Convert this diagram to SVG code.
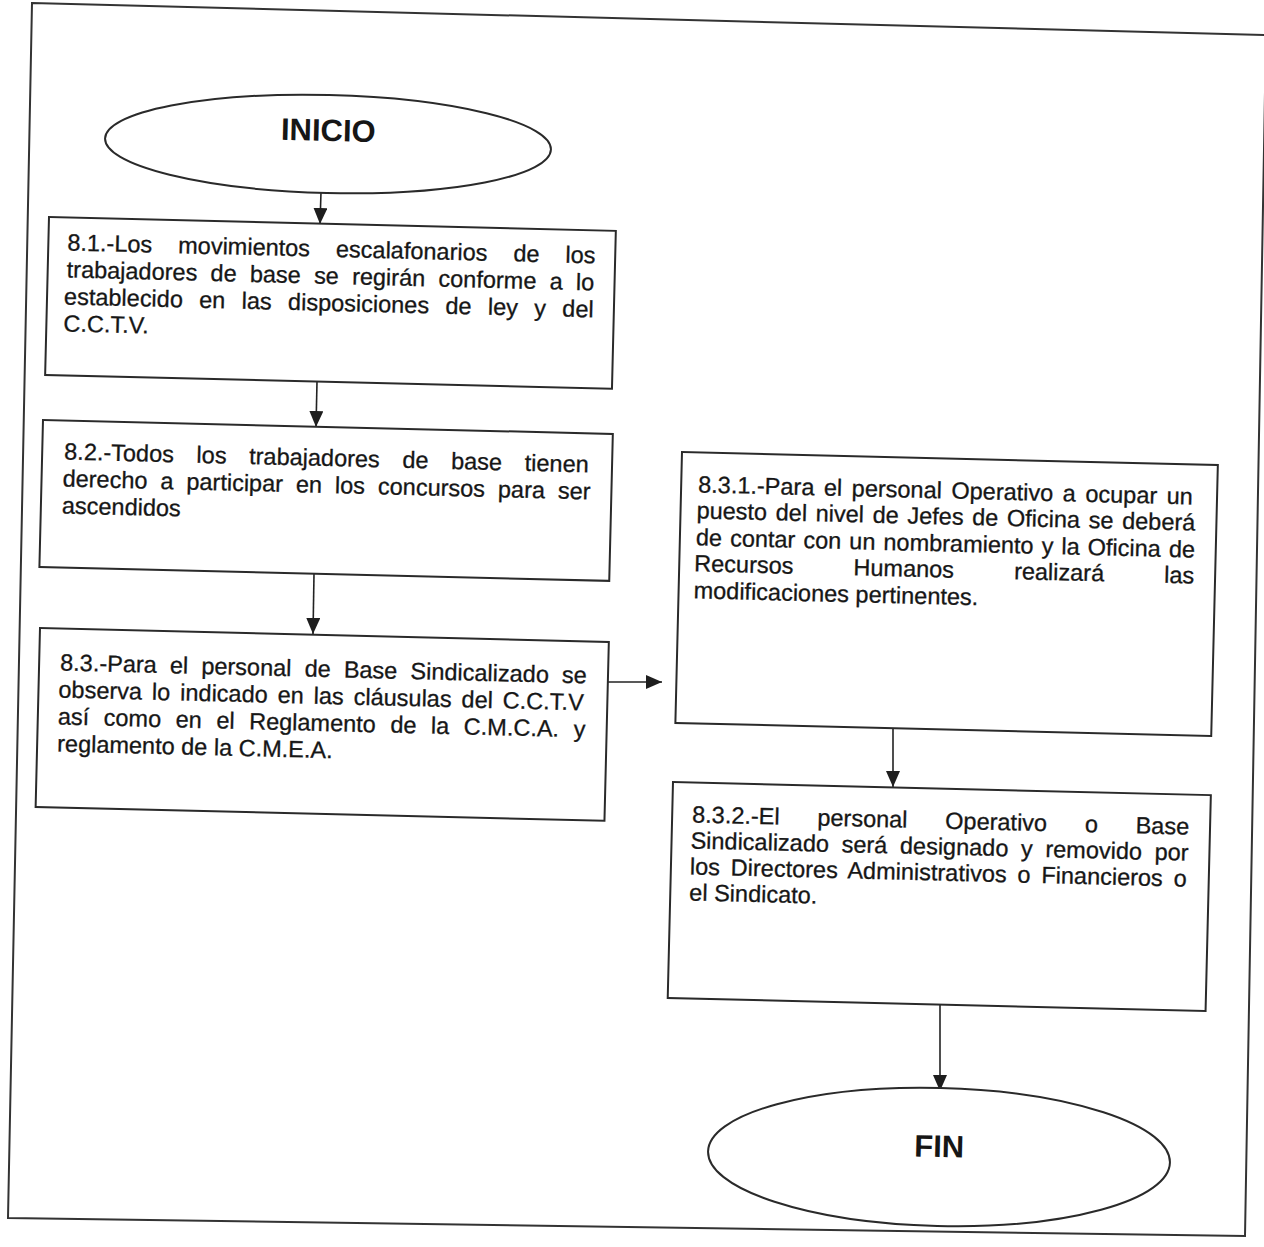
<svg xmlns="http://www.w3.org/2000/svg" width="1264" height="1247" viewBox="0 0 1264 1247">
  <style>
    .frame { fill: none; stroke: #333; stroke-width: 2; }
    .box { fill: #fff; stroke: #2a2a2a; stroke-width: 2; }
    .term { fill: #fff; stroke: #2a2a2a; stroke-width: 2; }
    .txt { font-family: "Liberation Sans", Arial, sans-serif; font-size: 23.5px; fill: #161616; stroke: #161616; stroke-width: 0.3; }
    .ttl { font-family: "Liberation Sans", Arial, sans-serif; font-size: 31px; font-weight: bold; fill: #161616; text-anchor: middle; }
    .conn { fill: none; stroke: #222; stroke-width: 1.6; }
  </style>
  <defs>
    <marker id="arrow" viewBox="0 0 16 14" refX="16" refY="7" markerWidth="16" markerHeight="14" markerUnits="userSpaceOnUse" orient="auto">
      <path d="M0,0 L16,7 L0,14 z" fill="#1e1e1e"/>
    </marker>
  </defs>

  <rect width="1264" height="1247" fill="#fff"/>

  <!-- page frame -->
  <polygon class="frame" points="32,3 1266,35 1245,1236 8,1218"/>

  <!-- connectors -->
  <g id="connectors">
    <line class="conn" x1="321" y1="192" x2="320" y2="224" marker-end="url(#arrow)"/>
    <line class="conn" x1="317" y1="382" x2="316" y2="427" marker-end="url(#arrow)"/>
    <line class="conn" x1="314" y1="574" x2="313" y2="634" marker-end="url(#arrow)"/>
    <line class="conn" x1="607" y1="682" x2="662" y2="682" marker-end="url(#arrow)"/>
    <line class="conn" x1="893" y1="729" x2="893" y2="787" marker-end="url(#arrow)"/>
    <line class="conn" x1="940" y1="1005" x2="940" y2="1091" marker-end="url(#arrow)"/>
  </g>

  <!-- start -->
  <g id="inicio" transform="translate(328 144) rotate(1.4)">
    <ellipse class="term" cx="0" cy="0" rx="223" ry="49"/>
    <text class="ttl" x="0" y="-3">INICIO</text>
  </g>

  <!-- 8.1 -->
  <g id="n8-1" transform="translate(49 217) rotate(1.4)">
    <rect class="box" x="0" y="0" width="567" height="158"/>
    <text class="txt" x="19" y="33" word-spacing="19.4">8.1.-Los movimientos escalafonarios de los</text>
    <text class="txt" x="19" y="60" word-spacing="6.7">trabajadores de base se regirán conforme a lo</text>
    <text class="txt" x="17" y="87" word-spacing="9.8">establecido en las disposiciones de ley y del</text>
    <text class="txt" x="17" y="114">C.C.T.V.</text>
  </g>

  <!-- 8.2 -->
  <g id="n8-2" transform="translate(43 420) rotate(1.4)">
    <rect class="box" x="0" y="0" width="570" height="147"/>
    <text class="txt" x="22" y="39" word-spacing="16.1">8.2.-Todos los trabajadores de base tienen</text>
    <text class="txt" x="21" y="66" word-spacing="6.4">derecho a participar en los concursos para ser</text>
    <text class="txt" x="21" y="93">ascendidos</text>
  </g>

  <!-- 8.3 -->
  <g id="n8-3" transform="translate(40 628) rotate(1.4)">
    <rect class="box" x="0" y="0" width="569" height="179"/>
    <text class="txt" x="21" y="42" word-spacing="6.6">8.3.-Para el personal de Base Sindicalizado se</text>
    <text class="txt" x="20" y="69" word-spacing="3.4">observa lo indicado en las cláusulas del C.C.T.V</text>
    <text class="txt" x="20" y="96" word-spacing="8.0">así como en el Reglamento de la C.M.C.A. y</text>
    <text class="txt" x="20" y="123">reglamento de la C.M.E.A.</text>
  </g>

  <!-- 8.3.1 -->
  <g id="n8-3-1" transform="translate(682 452) rotate(1.4)">
    <rect class="box" x="0" y="0" width="536" height="271"/>
    <text class="txt" x="17" y="40" word-spacing="3.0">8.3.1.-Para el personal Operativo a ocupar un</text>
    <text class="txt" x="16" y="66" word-spacing="2.1">puesto del nivel de Jefes de Oficina se deberá</text>
    <text class="txt" x="16" y="93" word-spacing="1.5">de contar con un nombramiento y la Oficina de</text>
    <text class="txt" x="15" y="119" word-spacing="53.5">Recursos Humanos realizará las</text>
    <text class="txt" x="15" y="146">modificaciones pertinentes.</text>
  </g>

  <!-- 8.3.2 -->
  <g id="n8-3-2" transform="translate(673 782) rotate(1.4)">
    <rect class="box" x="0" y="0" width="538" height="216"/>
    <text class="txt" x="20" y="40" word-spacing="31.2">8.3.2.-El personal Operativo o Base</text>
    <text class="txt" x="19" y="66" word-spacing="6.1">Sindicalizado será designado y removido por</text>
    <text class="txt" x="19" y="92" word-spacing="4.3">los Directores Administrativos o Financieros o</text>
    <text class="txt" x="19" y="118">el Sindicato.</text>
  </g>

  <!-- end -->
  <g id="fin" transform="translate(939 1157) rotate(1.4)">
    <ellipse class="term" cx="0" cy="0" rx="231" ry="69"/>
    <text class="ttl" x="0" y="0">FIN</text>
  </g>
</svg>
